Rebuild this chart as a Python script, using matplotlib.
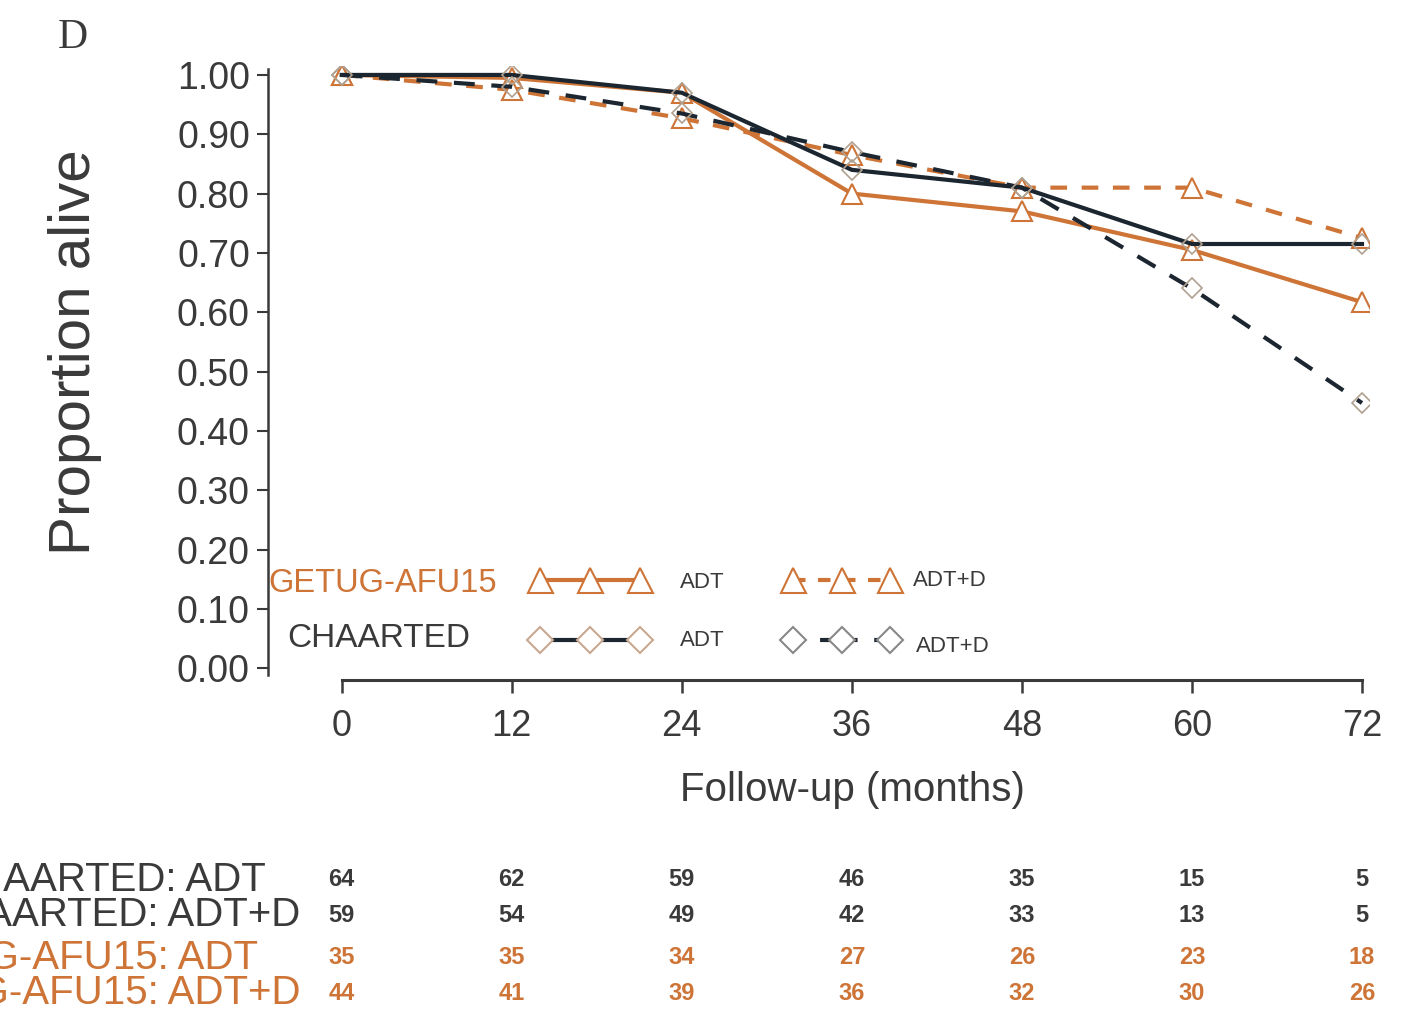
import matplotlib
matplotlib.use("Agg")
import matplotlib.pyplot as plt
from matplotlib.lines import Line2D

plt.rcParams['font.family'] = ['Liberation Sans', 'DejaVu Sans']

months = [0, 12, 24, 36, 48, 60, 72]
chaarted_adt = [1.00, 1.00, 0.97, 0.84, 0.81, 0.715, 0.715]
chaarted_adtd = [1.00, 0.98, 0.935, 0.87, 0.81, 0.64, 0.447]
getug_adt = [1.00, 0.995, 0.97, 0.80, 0.77, 0.705, 0.617]
getug_adtd = [1.00, 0.975, 0.927, 0.865, 0.81, 0.81, 0.725]

yticks = [0.0, 0.1, 0.2, 0.3, 0.4, 0.5, 0.6, 0.7, 0.8, 0.9, 1.0]
ytick_labels = ['0.00', '0.10', '0.20', '0.30', '0.40', '0.50', '0.60', '0.70', '0.80', '0.90', '1.00']

risk_labels = ['CHAARTED: ADT', 'CHAARTED: ADT+D', 'GETUG-AFU15: ADT', 'GETUG-AFU15: ADT+D']
risk_values = [
    [64, 62, 59, 46, 35, 15, 5],
    [59, 54, 49, 42, 33, 13, 5],
    [35, 35, 34, 27, 26, 23, 18],
    [44, 41, 39, 36, 32, 30, 26],
]

ORANGE = '#CD7436'
BLACK = '#1c2630'
GRAY = '#3a3a3a'

fig = plt.figure(figsize=(14.18, 10.16), dpi=100)
ax = fig.add_axes([0.189, 0.3307, 0.7765, 0.6043])

ms_tri = 15
ms_dia = 10
ax.plot(months, getug_adt, color=ORANGE, lw=3, marker='^', ms=ms_tri,
        mfc='white', mec=ORANGE, mew=1.5, zorder=3)
ax.plot(months, getug_adtd, color=ORANGE, lw=3, ls=(0, (4, 3.5)), marker='^', ms=ms_tri,
        mfc='white', mec=ORANGE, mew=1.5, zorder=3)
ax.plot(months, chaarted_adt, color=BLACK, lw=3, marker='D', ms=ms_dia,
        mfc='none', mec='#b0a090', mew=1.2, zorder=4)
ax.plot(months, chaarted_adtd, color=BLACK, lw=3, ls=(0, (5, 4)), marker='D', ms=ms_dia,
        mfc='none', mec='#b0a090', mew=1.2, zorder=4)

ax.set_xlim(-5.2, 72.5)
ax.set_ylim(-0.02, 1.015)
for s in ['top', 'right']:
    ax.spines[s].set_visible(False)
ax.spines['bottom'].set_bounds(0, 72)
ax.spines['left'].set_bounds(-0.012, 1.01)
ax.spines['bottom'].set_linewidth(2.2)
ax.spines['left'].set_linewidth(1.8)
ax.spines['bottom'].set_color(GRAY)
ax.spines['left'].set_color(GRAY)

ax.set_xticks(months)
ax.set_xticklabels([str(m) for m in months], fontsize=26, color=GRAY)
ax.set_yticks(yticks)
ax.set_yticklabels(ytick_labels, fontsize=27, color=GRAY)
ax.tick_params(axis='x', length=9, width=1.8, pad=12, colors=GRAY)
ax.tick_params(axis='y', length=8, width=1.5, pad=5, colors=GRAY)

ax.set_ylabel('Proportion alive', fontsize=42, color=GRAY)
ax.yaxis.set_label_coords((75 - 268) / 1101.0, (680 - 352) / 614.0)
ax.set_xlabel('Follow-up (months)', fontsize=29, color=GRAY)
ax.xaxis.set_label_coords((852 - 268) / 1101.0, (680 - 790) / 614.0)
ax.xaxis.label.set_va('center')
ax.yaxis.label.set_va('center')

# legend (drawn manually in axes fraction)
def fx(px):
    return (px - 268) / 1101.0

def fy(py):
    return (680 - py) / 614.0

ax.text(fx(268), fy(583), 'GETUG-AFU15', transform=ax.transAxes, fontsize=23.5,
        color=ORANGE, ha='left', va='center')
ax.text(fx(287), fy(638), 'CHAARTED', transform=ax.transAxes, fontsize=24,
        color=GRAY, ha='left', va='center')

leg_items = [
    (525, 655, 580, ORANGE, '-', '^', 18, ORANGE, 'ADT', 680, 582),
    (778, 905, 580, ORANGE, (0, (3, 3)), '^', 18, ORANGE, 'ADT+D', 913, 580),
    (525, 655, 640, BLACK, '-', 'D', 13, '#c8a890', 'ADT', 680, 640),
    (778, 905, 640, BLACK, (0, (2.5, 4)), 'D', 13, '#888888', 'ADT+D', 916, 646),
]
for x0, x1, yy, col, ls, mk, ms, mec, lab, tx, ty in leg_items:
    ax.add_line(Line2D([fx(x0 + 15), fx(x1 - 15)], [fy(yy), fy(yy)], transform=ax.transAxes,
                       color=col, lw=3, ls=ls, clip_on=False))
    xs = [fx(x0 + 15), fx((x0 + x1) / 2), fx(x1 - 15)]
    ax.add_line(Line2D(xs, [fy(yy)] * 3, transform=ax.transAxes, ls='none',
                       marker=mk, ms=ms, mfc='white', mec=mec, mew=1.5, clip_on=False))
    ax.text(fx(tx), fy(ty), lab, transform=ax.transAxes, fontsize=16,
            color=GRAY, ha='left', va='center')

fig.text(58 / 1418, 1 - 38 / 1016, 'D', fontsize=30, family='Liberation Serif',
         color=GRAY, ha='left', va='center')

# number-at-risk table
row_y = [880, 915, 958, 993]
row_colors = [GRAY, GRAY, ORANGE, ORANGE]
label_end = [266, 300, 258, 300]
for lab, vals, ypx, col, lx in zip(risk_labels, risk_values, row_y, row_colors, label_end):
    fig.text(lx / 1418, 1 - ypx / 1016, lab, fontsize=29, color=col, ha='right', va='center')
    for m, v in zip(months, vals):
        xdisp = ax.transData.transform((m, 0))[0]
        xf = fig.transFigure.inverted().transform((xdisp, 0))[0]
        fig.text(xf, 1 - ypx / 1016, str(v), fontsize=17, fontweight='bold',
                 color=col, ha='center', va='center')

fig.savefig('out.png', dpi=100)
